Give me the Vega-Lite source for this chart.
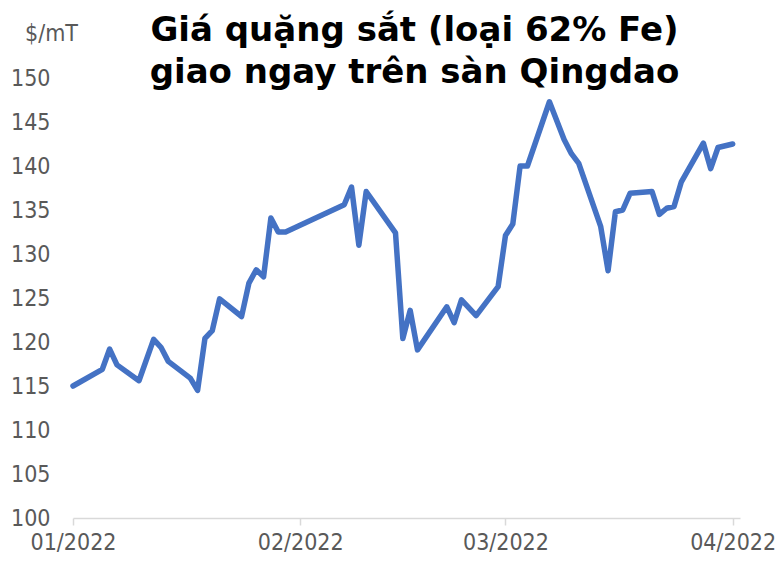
{
  "$schema": "https://vega.github.io/schema/vega-lite/v6.json",
  "width": 667,
  "height": 440,
  "autosize": "none",
  "padding": {"left": 73, "top": 78, "right": 41, "bottom": 43},
  "background": "white",
  "config": {"view": {"stroke": null}, "font": "DejaVu Sans Condensed"},
  "title": {
    "text": ["Giá quặng sắt (loại 62% Fe)", "giao ngay trên sàn Qingdao"],
    "anchor": "middle",
    "font": "DejaVu Sans",
    "fontSize": 34,
    "fontWeight": "bold",
    "color": "#000000",
    "lineHeight": 42,
    "offset": -68,
    "dx": 8
  },
  "data": {
    "values": [
      {"date": "2022-01-01", "price": 115.0},
      {"date": "2022-01-05", "price": 116.9},
      {"date": "2022-01-06", "price": 119.2},
      {"date": "2022-01-07", "price": 117.4},
      {"date": "2022-01-10", "price": 115.6},
      {"date": "2022-01-12", "price": 120.3},
      {"date": "2022-01-13", "price": 119.4},
      {"date": "2022-01-14", "price": 117.8},
      {"date": "2022-01-17", "price": 115.9},
      {"date": "2022-01-18", "price": 114.5},
      {"date": "2022-01-19", "price": 120.4},
      {"date": "2022-01-20", "price": 121.3},
      {"date": "2022-01-21", "price": 124.9},
      {"date": "2022-01-24", "price": 122.9},
      {"date": "2022-01-25", "price": 126.7},
      {"date": "2022-01-26", "price": 128.2},
      {"date": "2022-01-27", "price": 127.4},
      {"date": "2022-01-28", "price": 134.1},
      {"date": "2022-01-29", "price": 132.5},
      {"date": "2022-01-30", "price": 132.5},
      {"date": "2022-02-07", "price": 135.6},
      {"date": "2022-02-08", "price": 137.6},
      {"date": "2022-02-09", "price": 131.0},
      {"date": "2022-02-10", "price": 137.1},
      {"date": "2022-02-14", "price": 132.4},
      {"date": "2022-02-15", "price": 120.4},
      {"date": "2022-02-16", "price": 123.6},
      {"date": "2022-02-17", "price": 119.1},
      {"date": "2022-02-21", "price": 124.0},
      {"date": "2022-02-22", "price": 122.2},
      {"date": "2022-02-23", "price": 124.8},
      {"date": "2022-02-25", "price": 123.0},
      {"date": "2022-02-28", "price": 126.3},
      {"date": "2022-03-01", "price": 132.1},
      {"date": "2022-03-02", "price": 133.4},
      {"date": "2022-03-03", "price": 140.0},
      {"date": "2022-03-04", "price": 140.0},
      {"date": "2022-03-07", "price": 147.3},
      {"date": "2022-03-09", "price": 143.0},
      {"date": "2022-03-10", "price": 141.4},
      {"date": "2022-03-11", "price": 140.3},
      {"date": "2022-03-14", "price": 133.1},
      {"date": "2022-03-15", "price": 128.1},
      {"date": "2022-03-16", "price": 134.8},
      {"date": "2022-03-17", "price": 135.0},
      {"date": "2022-03-18", "price": 136.9},
      {"date": "2022-03-21", "price": 137.1},
      {"date": "2022-03-22", "price": 134.5},
      {"date": "2022-03-23", "price": 135.2},
      {"date": "2022-03-24", "price": 135.4},
      {"date": "2022-03-25", "price": 138.2},
      {"date": "2022-03-28", "price": 142.6},
      {"date": "2022-03-29", "price": 139.7},
      {"date": "2022-03-30", "price": 142.1},
      {"date": "2022-04-01", "price": 142.5}
    ]
  },
  "mark": {"type": "line", "color": "#4472C4", "strokeWidth": 5.5, "strokeJoin": "round", "strokeCap": "round"},
  "encoding": {
    "x": {
      "field": "date",
      "type": "temporal",
      "scale": {"type": "utc", "domain": ["2022-01-01", "2022-04-02"]},
      "axis": {
        "title": null,
        "values": [
          {"year": 2022, "month": 1, "date": 1, "utc": true},
          {"year": 2022, "month": 2, "date": 1, "utc": true},
          {"year": 2022, "month": 3, "date": 1, "utc": true},
          {"year": 2022, "month": 4, "date": 1, "utc": true}
        ],
        "format": "%m/%Y",
        "grid": false,
        "domainColor": "#D9D9D9",
        "domainWidth": 1.5,
        "tickColor": "#D9D9D9",
        "tickWidth": 1.5,
        "tickSize": 7,
        "labelFont": "DejaVu Sans Condensed",
        "labelFontSize": 23,
        "labelColor": "#595959",
        "labelPadding": 6,
        "labelFlush": false,
        "labelOverlap": false
      }
    },
    "y": {
      "field": "price",
      "type": "quantitative",
      "scale": {"domain": [100, 150], "zero": false, "nice": false},
      "axis": {
        "values": [100, 105, 110, 115, 120, 125, 130, 135, 140, 145, 150],
        "grid": false,
        "domain": false,
        "ticks": false,
        "labelFont": "DejaVu Sans Condensed",
        "labelFontSize": 23,
        "labelColor": "#595959",
        "labelPadding": 23,
        "title": "$/mT",
        "titleFont": "DejaVu Sans Condensed",
        "titleFontSize": 23,
        "titleFontWeight": "normal",
        "titleColor": "#595959",
        "titleAngle": 0,
        "titleAlign": "center",
        "titleBaseline": "middle",
        "titleX": -22,
        "titleY": -45
      }
    }
  }
}
